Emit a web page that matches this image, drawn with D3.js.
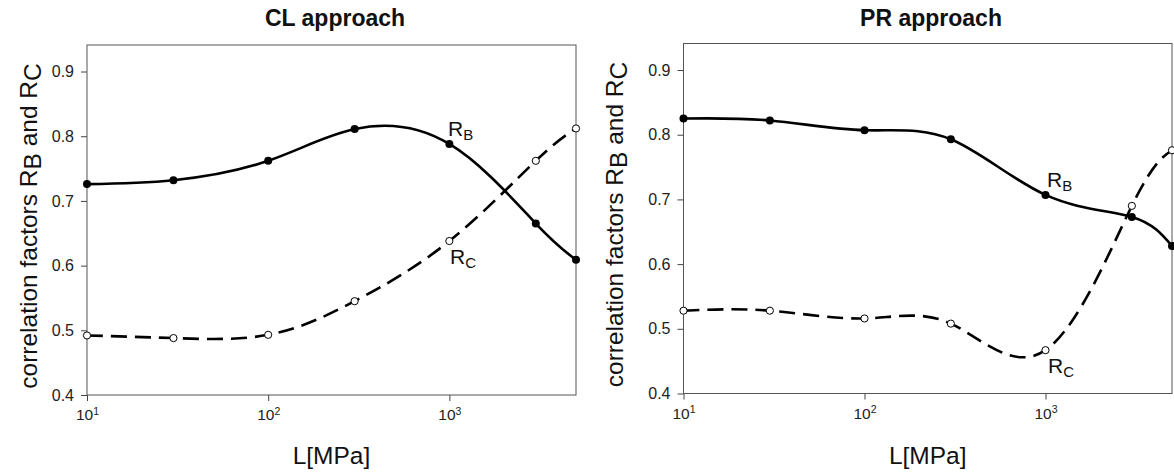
<!DOCTYPE html>
<html>
<head>
<meta charset="utf-8">
<script src="https://cdn.jsdelivr.net/npm/d3@7"></script>
<style>
  html, body { margin: 0; padding: 0; background: #fff; }
  svg { display: block; font-family: "Liberation Sans", Arial, Helvetica, sans-serif; }
</style>
</head>
<body>
<svg id="chart" width="1174" height="472"></svg>
<script>
// Load levels L [MPa] at which the correlation factors were evaluated
const loads = [10, 30, 100, 300, 1000, 3000, 5000];

// CL approach
const clRB = [0.726, 0.732, 0.762, 0.811, 0.788, 0.665, 0.609];
const clRC = [0.492, 0.488, 0.493, 0.545, 0.638, 0.762, 0.812];

// PR approach
const prRB = [0.825, 0.822, 0.807, 0.793, 0.707, 0.673, 0.628];
const prRC = [0.528, 0.528, 0.516, 0.508, 0.467, 0.690, 0.776];

// Axis ticks
const yTicks = [0.4, 0.5, 0.6, 0.7, 0.8, 0.9];
const xTicks = [10, 100, 1000];
const xDomain = [10, 5000];
const yDomain = [0.4, 0.941];

const svg = d3.select("#chart");

const panels = [
  {
    title: "CL approach", rb: clRB, rc: clRC,
    left: 87, right: 576, top: 45, bottom: 395,
    titleX: 335, yTitleX: 37,
    rbLabel: [448, 136], rcLabel: [450, 264]
  },
  {
    title: "PR approach", rb: prRB, rc: prRC,
    left: 683.5, right: 1172, top: 43.5, bottom: 393.5,
    titleX: 931, yTitleX: 623,
    rbLabel: [1047, 187], rcLabel: [1048, 373]
  }
];

panels.forEach(p => {
  const x = d3.scaleLog().domain(xDomain).range([p.left, p.right]);
  const y = d3.scaleLinear().domain(yDomain).range([p.bottom, p.top]);
  const g = svg.append("g");

  // title
  g.append("text")
    .attr("x", p.titleX).attr("y", 26)
    .attr("text-anchor", "middle")
    .attr("font-weight", "bold")
    .attr("font-size", 23)
    .attr("fill", "#111")
    .text(p.title);

  // y axis
  const yAxis = g.append("g")
    .attr("transform", `translate(${p.left},0)`)
    .call(d3.axisLeft(y).tickValues(yTicks).tickFormat(d3.format(".1f"))
      .tickSize(6).tickPadding(7));
  yAxis.select(".domain").remove();
  yAxis.selectAll(".tick line").attr("stroke", "#444");
  yAxis.selectAll(".tick text")
    .attr("font-size", 16).attr("fill", "#222")
    .attr("font-family", "Liberation Sans, Arial, sans-serif");

  // x axis with power-of-ten labels
  const xAxis = g.append("g")
    .attr("transform", `translate(0,${p.bottom})`)
    .call(d3.axisBottom(x).tickValues(xTicks).tickSize(6).tickPadding(8));
  xAxis.select(".domain").remove();
  xAxis.selectAll(".tick line").attr("stroke", "#444");
  xAxis.selectAll(".tick text")
    .attr("font-size", 15.5).attr("fill", "#222")
    .attr("font-family", "Liberation Sans, Arial, sans-serif")
    .each(function(d) {
      const t = d3.select(this).text(null);
      t.append("tspan").text("10");
      t.append("tspan").attr("font-size", 10.5).attr("dy", "-0.5em")
        .text(Math.round(Math.log10(d)));
    });

  // frame
  g.append("rect")
    .attr("x", p.left).attr("y", p.top)
    .attr("width", p.right - p.left).attr("height", p.bottom - p.top)
    .attr("fill", "none").attr("stroke", "#555").attr("stroke-width", 1);

  // axis titles
  g.append("text")
    .attr("x", (p.left + p.right) / 2).attr("y", 464)
    .attr("text-anchor", "middle")
    .attr("font-size", 24.5).attr("fill", "#111")
    .text("L[MPa]");

  const yt = g.append("text")
    .attr("transform", `translate(${p.yTitleX},${(p.top + p.bottom) / 2 + 6}) rotate(-90)`)
    .attr("text-anchor", "middle")
    .attr("font-size", 24.5).attr("fill", "#111");
  yt.append("tspan").text("correlation factors R");
  yt.append("tspan").attr("dy", 4).text("B");
  yt.append("tspan").attr("dy", -4).text(" and R");
  yt.append("tspan").attr("dy", 4).text("C");

  // curves
  const line = d3.line()
    .x((d, i) => x(loads[i]))
    .y(d => y(d))
    .curve(d3.curveNatural);

  g.append("path").datum(p.rb)
    .attr("d", line)
    .attr("fill", "none").attr("stroke", "#000").attr("stroke-width", 2.6);

  g.append("path").datum(p.rc)
    .attr("d", line)
    .attr("fill", "none").attr("stroke", "#000").attr("stroke-width", 2.6)
    .attr("stroke-dasharray", "16,8");

  // markers
  g.selectAll(".rb").data(p.rb).join("circle")
    .attr("cx", (d, i) => x(loads[i])).attr("cy", d => y(d))
    .attr("r", 4).attr("fill", "#000");

  g.selectAll(".rc").data(p.rc).join("circle")
    .attr("cx", (d, i) => x(loads[i])).attr("cy", d => y(d))
    .attr("r", 3.6).attr("fill", "#fff").attr("stroke", "#000").attr("stroke-width", 1);

  // series labels
  const addLabel = (pos, sub) => {
    const t = g.append("text")
      .attr("x", pos[0]).attr("y", pos[1])
      .attr("font-size", 21).attr("fill", "#111");
    t.append("tspan").text("R");
    t.append("tspan").attr("font-size", 15).attr("dy", 4).text(sub);
  };
  addLabel(p.rbLabel, "B");
  addLabel(p.rcLabel, "C");
});
</script>
</body>
</html>
